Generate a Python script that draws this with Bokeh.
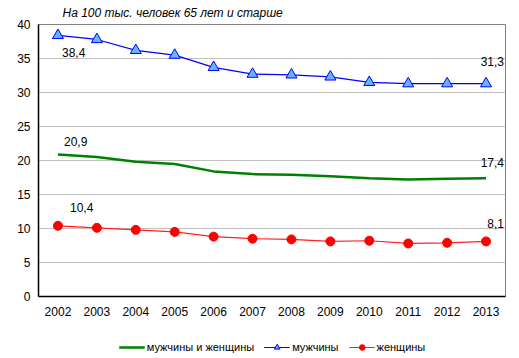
from bokeh.plotting import figure
from bokeh.layouts import column
from bokeh.models import Range1d, FixedTicker, Legend, LegendItem, Label, ColumnDataSource
from bokeh.embed import file_html
from bokeh.resources import INLINE

years = [2002, 2003, 2004, 2005, 2006, 2007, 2008, 2009, 2010, 2011, 2012, 2013]
both = [20.9, 20.5, 19.8, 19.5, 18.4, 18.0, 17.9, 17.7, 17.4, 17.2, 17.3, 17.4]
men = [38.4, 37.8, 36.2, 35.5, 33.7, 32.7, 32.6, 32.3, 31.5, 31.3, 31.3, 31.3]
women = [10.4, 10.1, 9.8, 9.5, 8.8, 8.5, 8.4, 8.1, 8.2, 7.8, 7.9, 8.1]
y_ticks = [0, 5, 10, 15, 20, 25, 30, 35, 40]
title_text = "На 100 тыс. человек 65 лет и старше"
names = ["мужчины и женщины", "мужчины", "женщины"]

FONT = "Liberation Sans"

p = figure(output_backend="svg", toolbar_location=None,
           x_range=Range1d(2001.5, 2013.5), y_range=Range1d(0, 40),
           frame_width=467, frame_height=272,
           min_border_left=38, min_border_right=13, min_border_top=24, min_border_bottom=24)
p.title.text = title_text
p.title.text_font = FONT
p.title.text_font_size = "12px"
p.title.text_font_style = "italic"
p.title.text_color = "black"
p.title.offset = 24
p.title.standoff = 7
p.title.vertical_align = "middle"
p.background_fill_color = "white"
p.border_fill_color = "white"
p.outline_line_color = "#808080"

p.xaxis.ticker = FixedTicker(ticks=years)
p.yaxis.ticker = FixedTicker(ticks=y_ticks)
for ax in (p.xaxis[0], p.yaxis[0]):
    ax.axis_line_color = "black"
    ax.axis_line_width = 1.5
    ax.major_tick_line_color = None
    ax.minor_tick_line_color = None
    ax.major_tick_out = 0
    ax.major_tick_in = 0
    ax.minor_tick_out = 0
    ax.major_label_text_font = FONT
    ax.major_label_text_font_size = "12px"
    ax.major_label_text_color = "black"
    ax.major_label_standoff = 8
p.xaxis.major_label_standoff = 10
p.xgrid.grid_line_color = None
p.ygrid.grid_line_color = "#c0c0c0"
p.ygrid.grid_line_width = 1

src = ColumnDataSource(dict(x=years, both=both, men=men, women=women))

p.line("x", "both", source=src, line_color="#008000", line_width=2.5)
p.line("x", "men", source=src, line_color="#0000ff", line_width=1.2)
p.scatter("x", "men", source=src, marker="triangle", size=11,
          fill_color="#66b3ff", line_color="#0000ff", line_width=1)
p.line("x", "women", source=src, line_color="#ff2020", line_width=1.2)
p.scatter("x", "women", source=src, marker="circle", size=9,
          fill_color="#ff0000", line_color="#ff0000")

def fmt(v):
    return ("%.1f" % v).replace(".", ",")

labels = [
    (years[0], men[0], 4, -17, "left"),
    (years[-1], men[-1], 18, 22, "right"),
    (years[0], both[0], 6, 13, "left"),
    (years[-1], both[-1], 18, 16, "right"),
    (years[0], women[0], 12, 18, "left"),
    (years[-1], women[-1], 18, 18, "right"),
]
vals = [men[0], men[-1], both[0], both[-1], women[0], women[-1]]
for (x, y, xo, yo, al), v in zip(labels, vals):
    p.add_layout(Label(x=x, y=y, x_offset=xo, y_offset=yo, text=fmt(v),
                       text_font=FONT, text_font_size="12px", text_color="black",
                       text_align=al, text_baseline="middle"))

# legend strip
lg = figure(width=519, height=36, output_backend="svg", toolbar_location=None,
            x_range=Range1d(0, 1), y_range=Range1d(0, 1),
            x_axis_type=None, y_axis_type=None,
            min_border_left=0, min_border_right=0, min_border_top=0, min_border_bottom=0)
lg.outline_line_color = None
lg.xgrid.grid_line_color = None
lg.ygrid.grid_line_color = None
l_both = lg.line("x", "both", source=src, line_color="#008000", line_width=2.5)
l_men = lg.line("x", "men", source=src, line_color="#0000ff", line_width=1.2)
l_men_m = lg.scatter("x", "men", source=src, marker="triangle", size=6,
                     fill_color="#66b3ff", line_color="#0000ff", line_width=1)
l_women = lg.line("x", "women", source=src, line_color="#ff2020", line_width=1.2)
l_women_m = lg.scatter("x", "women", source=src, marker="circle", size=6,
                       fill_color="#ff0000", line_color="#ff0000")

legend = Legend(items=[
    LegendItem(label=names[0], renderers=[l_both]),
    LegendItem(label=names[1], renderers=[l_men, l_men_m]),
    LegendItem(label=names[2], renderers=[l_women, l_women_m]),
], orientation="horizontal", location="bottom_center")
legend.label_text_font = FONT
legend.label_text_font_size = "11px"
legend.label_text_color = "black"
legend.glyph_width = 26
legend.glyph_height = 14
legend.label_height = 14
legend.label_standoff = 2
legend.spacing = 10
legend.border_line_color = None
legend.background_fill_alpha = 0
legend.margin = 2
legend.padding = 2
lg.add_layout(legend, "center")

layout = column(p, lg, spacing=0)
open("out.html", "w").write(file_html(layout, INLINE))
